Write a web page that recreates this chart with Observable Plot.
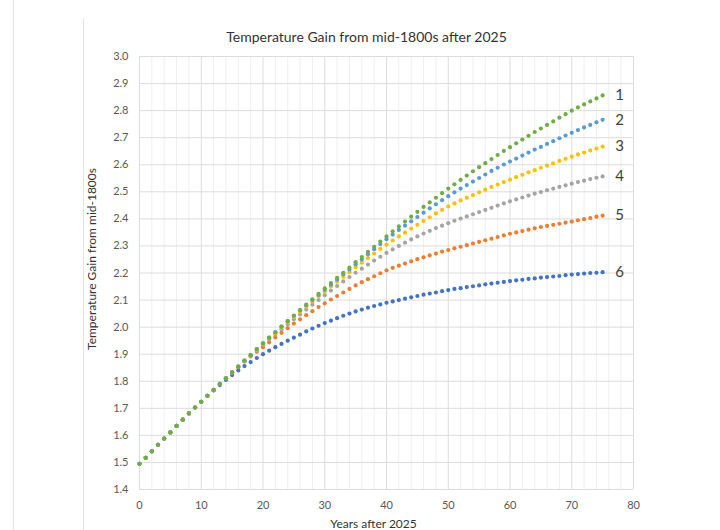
<!DOCTYPE html>
<html><head><meta charset="utf-8">
<script src="https://cdn.jsdelivr.net/npm/d3@7"></script>
<script src="https://cdn.jsdelivr.net/npm/@observablehq/plot@0.6"></script>
<style>
html,body{margin:0;padding:0;background:#fff;}
#chart{width:720px;height:530px;position:relative;overflow:hidden;}
.edge{position:absolute;top:0;bottom:0;width:1px;background:#e4e4e4;}
</style></head><body><div id="chart"><div class="edge" style="left:13px"></div><div class="edge" style="left:83px;top:18px"></div></div>
<script>
const title = "Temperature Gain from mid-1800s after 2025";
const xLabel = "Years after 2025";
const yLabel = "Temperature Gain from mid-1800s";

const years = d3.range(0, 76);
const xTicks = [0, 10, 20, 30, 40, 50, 60, 70, 80];
const yTicks = [1.4, 1.5, 1.6, 1.7, 1.8, 1.9, 2.0, 2.1, 2.2, 2.3, 2.4, 2.5, 2.6, 2.7, 2.8, 2.9, 3.0];

const seriesNames = ["1", "2", "3", "4", "5", "6"];
const seriesColors = ["#70AD47", "#5B9BD5", "#FFC000", "#A5A5A5", "#ED7D31", "#4472C4"];

const s1 = [1.495,1.517,1.541,1.565,1.588,1.611,1.635,1.658,1.681,1.703,1.724,1.746,1.768,
  1.790,1.811,1.833,1.854,1.876,1.897,1.919,1.940,
  1.961,1.981,2.002,2.022,2.043,2.063,2.083,2.103,2.123,2.143,
  2.163,2.182,2.201,2.220,2.240,2.259,2.278,2.297,2.316,2.335,
  2.354,2.372,2.390,2.408,2.426,2.444,2.461,2.478,2.495,2.512,
  2.528,2.544,2.560,2.576,2.591,2.606,2.621,2.636,2.651,2.665,
  2.679,2.693,2.707,2.721,2.734,2.747,2.760,2.774,2.787,2.800,
  2.812,2.823,2.834,2.845,2.856];
const s2 = [1.495,1.517,1.541,1.565,1.588,1.611,1.635,1.658,1.681,1.703,1.724,1.746,1.768,
  1.790,1.811,1.833,1.854,1.876,1.897,1.919,1.940,
  1.961,1.981,2.002,2.022,2.042,2.062,2.081,2.100,2.119,2.138,
  2.157,2.176,2.195,2.213,2.232,2.250,2.269,2.288,2.307,2.325,
  2.342,2.359,2.375,2.391,2.407,2.423,2.439,2.454,2.469,2.484,
  2.498,2.512,2.525,2.538,2.551,2.564,2.577,2.589,2.601,2.612,
  2.623,2.634,2.645,2.656,2.666,2.677,2.687,2.698,2.708,2.718,
  2.728,2.738,2.747,2.757,2.766];
const s3 = [1.495,1.517,1.541,1.565,1.588,1.611,1.635,1.658,1.681,1.703,1.724,1.746,1.768,
  1.790,1.811,1.833,1.854,1.875,1.896,1.917,1.938,
  1.958,1.978,1.998,2.018,2.038,2.057,2.076,2.095,2.114,2.132,
  2.150,2.168,2.186,2.203,2.221,2.238,2.255,2.272,2.289,2.305,
  2.320,2.335,2.349,2.364,2.378,2.392,2.406,2.420,2.433,2.446,
  2.457,2.468,2.478,2.488,2.498,2.508,2.518,2.527,2.536,2.545,
  2.554,2.563,2.572,2.580,2.589,2.597,2.605,2.614,2.622,2.630,
  2.638,2.645,2.653,2.660,2.667];
const s4 = [1.495,1.517,1.541,1.565,1.588,1.611,1.635,1.658,1.681,1.703,1.724,1.746,1.768,
  1.790,1.811,1.832,1.853,1.874,1.895,1.915,1.935,
  1.954,1.973,1.992,2.011,2.029,2.047,2.065,2.083,2.100,2.118,
  2.135,2.152,2.169,2.185,2.201,2.216,2.231,2.246,2.260,2.274,
  2.287,2.300,2.312,2.324,2.335,2.346,2.356,2.366,2.375,2.384,
  2.393,2.401,2.409,2.417,2.425,2.433,2.441,2.449,2.457,2.465,
  2.472,2.479,2.486,2.493,2.499,2.506,2.512,2.518,2.524,2.530,
  2.536,2.541,2.547,2.552,2.557];
const s5 = [1.495,1.517,1.541,1.565,1.588,1.611,1.635,1.658,1.681,1.703,1.724,1.746,1.768,
  1.790,1.811,1.833,1.853,1.873,1.892,1.909,1.926,
  1.944,1.962,1.979,1.996,2.013,2.029,2.044,2.059,2.074,2.088,
  2.102,2.115,2.128,2.141,2.154,2.166,2.177,2.188,2.199,2.210,
  2.219,2.227,2.235,2.243,2.251,2.258,2.265,2.272,2.279,2.285,
  2.291,2.297,2.303,2.309,2.315,2.321,2.327,2.333,2.339,2.345,
  2.350,2.355,2.360,2.365,2.370,2.374,2.378,2.382,2.386,2.390,
  2.395,2.399,2.403,2.408,2.412];
const s6 = [1.495,1.517,1.541,1.565,1.588,1.611,1.635,1.658,1.681,1.703,1.724,1.746,1.766,
  1.786,1.805,1.823,1.840,1.856,1.871,1.886,1.900,
  1.913,1.926,1.938,1.950,1.961,1.972,1.984,1.995,2.005,2.015,
  2.024,2.033,2.042,2.050,2.058,2.065,2.072,2.078,2.084,2.090,
  2.095,2.100,2.105,2.110,2.115,2.120,2.124,2.128,2.133,2.137,
  2.141,2.144,2.148,2.151,2.154,2.158,2.161,2.164,2.167,2.170,
  2.173,2.175,2.178,2.180,2.183,2.185,2.187,2.189,2.192,2.194,
  2.196,2.198,2.200,2.201,2.203];

const seriesValues = [s1, s2, s3, s4, s5, s6];

// draw order: series 6 first so series 1 (green) sits on top
const rows = [];
for (let i = seriesValues.length - 1; i >= 0; i--) {
  seriesValues[i].forEach((v, j) => rows.push({year: years[j], value: v, series: seriesNames[i]}));
}
const endRows = seriesValues.map((vals, i) => ({year: years[vals.length - 1], value: vals[vals.length - 1], series: seriesNames[i]}));
const minorX = d3.range(0, 81, 2).filter(d => d % 10 !== 0);

const font = "Lato, 'Open Sans', sans-serif";
const plot = Plot.plot({
  width: 720, height: 530,
  marginLeft: 139, marginRight: 87, marginTop: 56, marginBottom: 41,
  style: {fontFamily: font, fontSize: "11px", color: "#595959", background: "transparent", overflow: "visible"},
  x: {domain: [0, 80], ticks: xTicks, tickSize: 0, tickPadding: 12, label: null},
  y: {domain: [1.4, 3.0], ticks: yTicks, tickFormat: d3.format(".1f"), tickSize: 0, tickPadding: 11, label: null},
  color: {domain: seriesNames, range: seriesColors},
  marks: [
    Plot.ruleX(minorX, {stroke: "#efefef"}),
    Plot.ruleX(xTicks, {stroke: "#dcdcdc"}),
    Plot.ruleY(yTicks, {stroke: "#dcdcdc"}),
    Plot.dot(rows, {x: "year", y: "value", fill: "series", r: 2.1}),
    Plot.text(endRows, {x: "year", y: "value", text: "series", dx: 17, fontSize: 15, fill: "#404040", textAnchor: "middle"}),
    Plot.text([title], {frameAnchor: "top", dx: -20, dy: -19, fontSize: 14, fill: "#333", lineAnchor: "middle"}),
    Plot.text([xLabel], {frameAnchor: "bottom", dx: -13, dy: 35, fontSize: 12, fill: "#333", lineAnchor: "middle"}),
    Plot.text([yLabel], {frameAnchor: "left", dx: -47, dy: -14, rotate: -90, fontSize: 12, fill: "#333", textAnchor: "middle", lineAnchor: "middle"})
  ]
});
plot.style.position = "absolute";
plot.style.left = "0";
plot.style.top = "0";
document.getElementById("chart").appendChild(plot);
</script>
</body></html>
